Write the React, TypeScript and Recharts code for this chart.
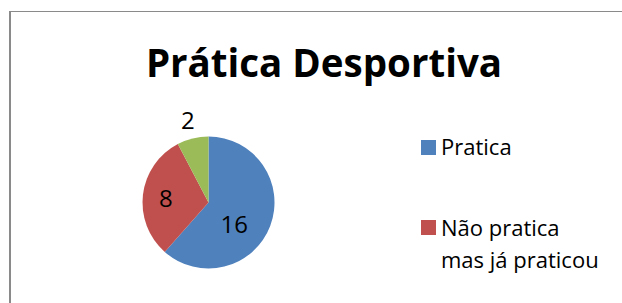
import React from 'react';
import { PieChart, Pie, Cell, Legend } from 'recharts';

const title = 'Prática Desportiva';
const categories = ['Pratica', 'Não pratica mas já praticou', 'Nunca praticou'];
const values = [16, 8, 2];
const colors = ['#4F81BD', '#C0504D', '#9BBB59'];
// the reference crop only shows the first two legend entries
const legendCategories = categories.slice(0, 2);

const data = categories.map((name, i) => ({ name, value: values[i] }));

const FONT = '"Open Sans", "Noto Sans", sans-serif';
const RAD = Math.PI / 180;
// label placement relative to each slice's own geometry (radius factor, angle tweak)
const LABEL_PLACEMENT = [
  { k: 0.506, dA: -19 },
  { k: 0.65, dA: 0 },
  { k: 1.3, dA: 0 },
];

function renderLabel(props: any) {
  const { cx, cy, midAngle, outerRadius, index, value } = props;
  const p = LABEL_PLACEMENT[index] ?? { k: 0.6, dA: 0 };
  const a = (midAngle + p.dA) * RAD;
  const r = outerRadius * p.k;
  const x = cx + r * Math.cos(a);
  const y = cy - r * Math.sin(a);
  return (
    <text
      x={x}
      y={y}
      textAnchor="middle"
      dominantBaseline="central"
      fontFamily={FONT}
      fontSize={24}
      fill="#000"
    >
      {value}
    </text>
  );
}

function renderLegend(props: any) {
  const payload = [...(props.payload || [])]
    .filter((e: any) => legendCategories.includes(e.value))
    .sort((a: any, b: any) => categories.indexOf(a.value) - categories.indexOf(b.value));
  return (
    <div style={{ fontFamily: FONT, fontSize: 22, lineHeight: '32px', color: '#000' }}>
      {payload.map((entry: any, i: number) => (
        <div
          key={i}
          style={{
            display: 'flex',
            alignItems: 'flex-start',
            marginBottom: i < payload.length - 1 ? 48.7 : 0,
          }}
        >
          <span
            style={{
              width: 15,
              height: 15,
              background: entry.color,
              marginTop: 9.5,
              marginRight: 5,
              flex: '0 0 15px',
            }}
          />
          <span style={{ width: 167 }}>{entry.value}</span>
        </div>
      ))}
    </div>
  );
}

export default function App() {
  return (
    <div
      style={{
        position: 'absolute',
        left: 0,
        top: 0,
        width: 622,
        height: 303,
        overflow: 'hidden',
        background: '#fff',
      }}
    >
      <div
        style={{
          position: 'absolute',
          left: 9,
          top: 11,
          width: 700,
          height: 400,
          borderTop: '1px solid #8a8a8a',
          borderLeft: '2px solid #8a8a8a',
          boxSizing: 'border-box',
        }}
      />
      <div style={{ position: 'absolute', left: 0, top: 0 }}>
        <PieChart width={622} height={303} margin={{ top: 0, right: 0, bottom: 0, left: 0 }}>
          <Pie
            data={data}
            dataKey="value"
            nameKey="name"
            cx={208.5}
            cy={202.5}
            outerRadius={66}
            startAngle={90}
            endAngle={-270}
            stroke="none"
            label={renderLabel}
            labelLine={false}
            isAnimationActive={false}
          >
            {data.map((d, i) => (
              <Cell key={d.name} fill={colors[i]} />
            ))}
          </Pie>
          <Legend
            layout="vertical"
            align="right"
            verticalAlign="top"
            content={renderLegend}
            wrapperStyle={{ position: 'absolute', left: 421, top: 130, width: 200 }}
          />
        </PieChart>
      </div>
      <svg
        width={622}
        height={303}
        style={{ position: 'absolute', left: 0, top: 0, pointerEvents: 'none' }}
      >
        <text
          x={324}
          y={77}
          textAnchor="middle"
          fontFamily={FONT}
          fontWeight="bold"
          fontSize={38.5}
          fill="#000"
        >
          {title}
        </text>
      </svg>
    </div>
  );
}
